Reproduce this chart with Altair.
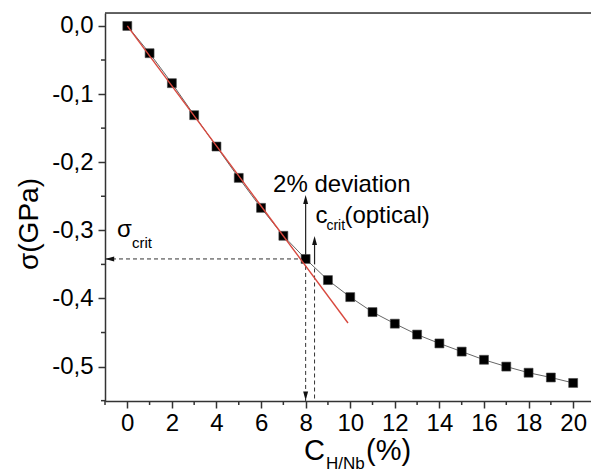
import altair as alt
import pandas as pd

# ---- data ----
conc = list(range(0, 21))
stress = [0.000, -0.040, -0.084, -0.131, -0.177, -0.223, -0.267, -0.308, -0.342,
          -0.373, -0.398, -0.420, -0.437, -0.453, -0.466, -0.478, -0.490, -0.500,
          -0.509, -0.516, -0.524]
fit_x = [0.0, 9.9]
fit_y = [0.0, -0.436]
x_major = list(range(0, 21, 2))
x_minor = list(range(-1, 21, 2))
y_major = [-0.5, -0.4, -0.3, -0.2, -0.1, 0.0]
y_minor = [-0.55, -0.45, -0.35, -0.25, -0.15, -0.05]

sigma_crit = -0.342
c_dev = 8.0
c_opt = 8.4

W, H = 486, 388
XD = [-1, 20.8]
YD = [-0.5505, 0.019]
FONT = "Liberation Sans"

df = pd.DataFrame({"c": conc, "s": stress})
fit = pd.DataFrame({"c": fit_x, "s": fit_y})
one = pd.DataFrame({"a": [0]})

xs = alt.Scale(domain=XD, nice=False, zero=False)
ys = alt.Scale(domain=YD, nice=False, zero=False)

common = dict(title=None, grid=False, tickSize=7, labelOverlap=False, labelFlush=False,
              labelFont=FONT, labelFontSize=24, labelColor="black",
              domainColor="#333333", domainWidth=1.5, tickColor="#333333", tickWidth=1.5)
x_axis = alt.Axis(values=x_major, format="d", labelPadding=3, **common)
y_axis = alt.Axis(values=y_major,
                  labelExpr="(datum.value < -0.001 ? '-' : '') + replace(format(abs(datum.value), '.1f'), '.', ',')",
                  labelPadding=5, **common)

base = alt.Chart(df)

curve = base.mark_line(color="#666666", strokeWidth=1).encode(
    x=alt.X("c:Q", scale=xs, axis=x_axis),
    y=alt.Y("s:Q", scale=ys, axis=y_axis),
)
pts = base.mark_point(shape="square", filled=True, size=80, color="black",
                      stroke="#444444", strokeWidth=0.6, opacity=1).encode(
    x=alt.X("c:Q", scale=xs), y=alt.Y("s:Q", scale=ys))
red = alt.Chart(fit).mark_line(color="#d8483e", strokeWidth=1.4).encode(
    x=alt.X("c:Q", scale=xs), y=alt.Y("s:Q", scale=ys))

# minor ticks
xminor = alt.Chart(pd.DataFrame({"v": x_minor})).mark_rule(color="#333333", strokeWidth=1.5).encode(
    x=alt.X("v:Q", scale=xs), y=alt.value(H), y2=alt.value(H + 4))
yminor = alt.Chart(pd.DataFrame({"v": y_minor})).mark_rule(color="#333333", strokeWidth=1.5).encode(
    y=alt.Y("v:Q", scale=ys), x=alt.value(0), x2=alt.value(-4))

# dashed guide lines
guides = pd.DataFrame({
    "x1": [XD[0], c_dev, c_opt],
    "x2": [c_dev, c_dev, c_opt],
    "y1": [sigma_crit, sigma_crit, -0.356],
    "y2": [sigma_crit, YD[0], YD[0]],
})
dashed = alt.Chart(guides).mark_rule(color="#333333", strokeWidth=1, strokeDash=[4, 3]).encode(
    x=alt.X("x1:Q", scale=xs), x2="x2:Q",
    y=alt.Y("y1:Q", scale=ys), y2="y2:Q")

# solid arrows
arrows = pd.DataFrame({"x": [c_dev, c_opt], "y1": [sigma_crit, -0.350], "y2": [-0.258, -0.318]})
arrow_lines = alt.Chart(arrows).mark_rule(color="#222222", strokeWidth=1.2).encode(
    x=alt.X("x:Q", scale=xs), y=alt.Y("y1:Q", scale=ys), y2="y2:Q")

up_heads = pd.DataFrame({"x": [c_dev, c_opt], "y": [-0.2547, -0.3149]})
up = alt.Chart(up_heads).mark_point(shape="M-0.55,1L0.55,1L0,-1Z", filled=True, size=81,
                                    color="#111111", opacity=1).encode(
    x=alt.X("x:Q", scale=xs), y=alt.Y("y:Q", scale=ys))
down = alt.Chart(pd.DataFrame({"x": [c_dev], "y": [-0.5432]})).mark_point(
    shape="M-0.55,-1L0.55,-1L0,1Z", filled=True, size=81, color="#111111", opacity=1).encode(
    x=alt.X("x:Q", scale=xs), y=alt.Y("y:Q", scale=ys))
left = alt.Chart(pd.DataFrame({"x": [-0.79], "y": [sigma_crit]})).mark_point(
    shape="M1,-0.55L1,0.55L-1,0Z", filled=True, size=81, color="#111111", opacity=1).encode(
    x=alt.X("x:Q", scale=xs), y=alt.Y("y:Q", scale=ys))

# annotations
ann = pd.DataFrame({
    "x": [6.54, 8.44, 9.74, -0.46],
    "y": [-0.2438, -0.2893, -0.2893, -0.310],
    "t": ["2% deviation", "c", "(optical)", "σ"],
})
ann_text = alt.Chart(ann).mark_text(align="left", baseline="alphabetic", font=FONT,
                                    fontSize=24, color="black").encode(
    x=alt.X("x:Q", scale=xs), y=alt.Y("y:Q", scale=ys), text="t:N")
sub = pd.DataFrame({"x": [8.93, 0.21], "y": [-0.2996, -0.326], "t": ["crit", "crit"],
                    "fs": [14, 15]})
sub_text = alt.Chart(sub).mark_text(align="left", baseline="alphabetic", font=FONT,
                                    color="black").encode(
    x=alt.X("x:Q", scale=xs), y=alt.Y("y:Q", scale=ys), text="t:N",
    size=alt.Size("fs:Q", scale=None, legend=None))

# top frame line
frame = alt.Chart(one).mark_rule(color="#333333", strokeWidth=1.5).encode(
    x=alt.value(0), x2=alt.value(W), y=alt.value(0))

# axis titles (with subscripts)
xt_big1 = alt.Chart(one).mark_text(text="C", align="left", baseline="alphabetic", font=FONT,
                                   fontSize=29, color="black").encode(x=alt.value(199), y=alt.value(447))
xt_sub = alt.Chart(one).mark_text(text="H/Nb", align="left", baseline="alphabetic", font=FONT,
                                  fontSize=17, color="black").encode(x=alt.value(221), y=alt.value(456))
xt_big2 = alt.Chart(one).mark_text(text="(%)", align="left", baseline="alphabetic", font=FONT,
                                   fontSize=29, color="black").encode(x=alt.value(261), y=alt.value(447))
yt = alt.Chart(one).mark_text(text="σ(GPa)", align="center", baseline="middle", angle=270, font=FONT,
                              fontSize=28, color="black").encode(x=alt.value(-75), y=alt.value(211))

chart = alt.layer(
    curve, xminor, yminor, dashed, arrow_lines, up, down, left, pts, red, ann_text, sub_text,
    frame, xt_big1, xt_sub, xt_big2, yt,
).properties(
    width=W, height=H,
    autosize=alt.AutoSizeParams(type="none"),
    padding={"left": 105, "top": 13, "right": 0, "bottom": 71},
).configure_view(stroke=None).configure(background="white")

chart.save("out.html", embed_options={"renderer": "svg", "actions": False})
